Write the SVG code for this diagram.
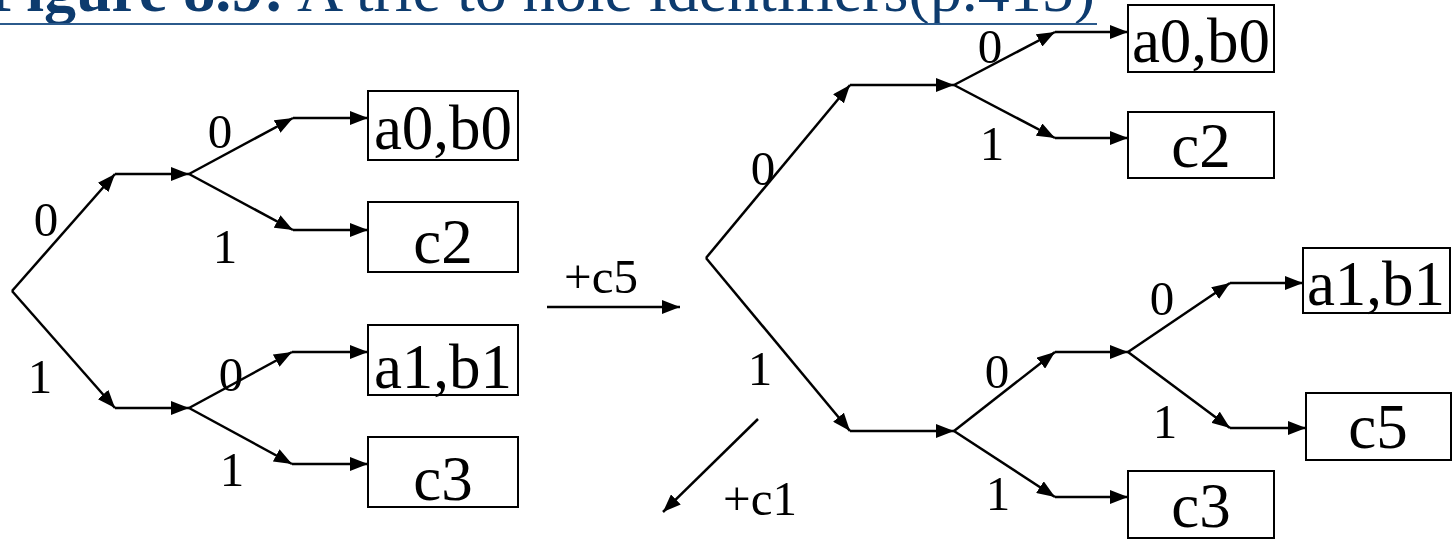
<svg xmlns="http://www.w3.org/2000/svg" width="1452" height="539" viewBox="0 0 1452 539">
<defs>
<marker id="ah" markerUnits="userSpaceOnUse" markerWidth="18" markerHeight="14" refX="18" refY="7" orient="auto">
<path d="M0,0 L18,7 L0,14 z" fill="#000"/>
</marker>
<style>
.e{stroke:#000;stroke-width:2.5;fill:none}
.a{stroke:#000;stroke-width:2.5;fill:none;marker-end:url(#ah)}
.box{stroke:#000;stroke-width:2;fill:#fff}
.bt{font-family:"Liberation Serif","Times New Roman",serif;font-size:63px;fill:#000;text-anchor:middle}
.lb{font-family:"Liberation Serif","Times New Roman",serif;font-size:49px;fill:#000;text-anchor:middle}
.tt{font-family:"Liberation Serif","Times New Roman",serif;font-size:64px;fill:#0d3b6e}
</style>
</defs>
<rect width="1452" height="539" fill="#fff"/>
<g id="title">
<text class="tt" x="1095" y="11" text-anchor="end"><tspan font-weight="bold">Figure 8.9:</tspan> A trie to hole identifiers(p.415)</text>
<line x1="0" y1="24" x2="1097" y2="24" stroke="#2b5a8c" stroke-width="2"/>
</g>
<g id="connectors">
<line class="a" x1="12" y1="291" x2="115" y2="174"/>
<line class="a" x1="12" y1="291" x2="115" y2="408"/>
<line class="a" x1="115" y1="174" x2="189" y2="174"/>
<line class="a" x1="115" y1="408" x2="189" y2="408"/>
<line class="a" x1="189" y1="174" x2="293" y2="118"/>
<line class="a" x1="189" y1="174" x2="293" y2="230"/>
<line class="a" x1="293" y1="118" x2="368" y2="118"/>
<line class="a" x1="293" y1="230" x2="368" y2="230"/>
<line class="a" x1="189" y1="408" x2="292" y2="352"/>
<line class="a" x1="189" y1="408" x2="292" y2="464"/>
<line class="a" x1="292" y1="352" x2="368" y2="352"/>
<line class="a" x1="292" y1="464" x2="368" y2="464"/>
<line class="a" x1="547" y1="307" x2="680" y2="307"/>
<line class="a" x1="758" y1="419" x2="663" y2="512"/>
<line class="a" x1="706" y1="258" x2="850" y2="85"/>
<line class="a" x1="706" y1="258" x2="850" y2="431"/>
<line class="a" x1="850" y1="85" x2="954" y2="85"/>
<line class="a" x1="850" y1="431" x2="954" y2="431"/>
<line class="a" x1="954" y1="85" x2="1055" y2="32"/>
<line class="a" x1="954" y1="85" x2="1055" y2="138"/>
<line class="a" x1="1055" y1="32" x2="1128" y2="32"/>
<line class="a" x1="1055" y1="138" x2="1128" y2="138"/>
<line class="a" x1="954" y1="431" x2="1055" y2="352"/>
<line class="a" x1="954" y1="431" x2="1055" y2="497"/>
<line class="a" x1="1055" y1="352" x2="1128" y2="352"/>
<line class="a" x1="1055" y1="497" x2="1128" y2="497"/>
<line class="a" x1="1128" y1="352" x2="1230" y2="283"/>
<line class="a" x1="1128" y1="352" x2="1230" y2="428"/>
<line class="a" x1="1230" y1="283" x2="1303" y2="283"/>
<line class="a" x1="1230" y1="428" x2="1306" y2="428"/>
</g>
<g id="labels">
<text class="lb" x="46" y="236">0</text>
<text class="lb" x="40" y="393">1</text>
<text class="lb" x="220" y="148">0</text>
<text class="lb" x="225" y="263">1</text>
<text class="lb" x="231" y="391">0</text>
<text class="lb" x="232" y="486">1</text>
<text class="lb" x="601" y="293">+c5</text>
<text class="lb" x="760" y="515">+c1</text>
<text class="lb" x="763" y="185">0</text>
<text class="lb" x="760" y="385">1</text>
<text class="lb" x="990" y="63">0</text>
<text class="lb" x="992" y="160">1</text>
<text class="lb" x="997" y="388">0</text>
<text class="lb" x="998" y="510">1</text>
<text class="lb" x="1162" y="315">0</text>
<text class="lb" x="1165" y="438">1</text>
</g>
<g id="L_a0b0"><rect class="box" x="368" y="91" width="150" height="69"/><text class="bt" x="443" y="149">a0,b0</text></g>
<g id="L_c2"><rect class="box" x="368" y="202" width="150" height="70"/><text class="bt" x="443" y="263">c2</text></g>
<g id="L_a1b1"><rect class="box" x="368" y="325" width="150" height="70"/><text class="bt" x="443" y="388">a1,b1</text></g>
<g id="L_c3"><rect class="box" x="368" y="437" width="150" height="70"/><text class="bt" x="443" y="500">c3</text></g>
<g id="R_a0b0"><rect class="box" x="1128" y="5" width="146" height="67"/><text class="bt" x="1201" y="62">a0,b0</text></g>
<g id="R_c2"><rect class="box" x="1128" y="112" width="146" height="66"/><text class="bt" x="1201" y="167">c2</text></g>
<g id="R_a1b1"><rect class="box" x="1303" y="248" width="147" height="65"/><text class="bt" x="1376" y="305">a1,b1</text></g>
<g id="R_c5"><rect class="box" x="1306" y="393" width="145" height="67"/><text class="bt" x="1378" y="448">c5</text></g>
<g id="R_c3"><rect class="box" x="1128" y="471" width="146" height="67"/><text class="bt" x="1201" y="527">c3</text></g>
</svg>
